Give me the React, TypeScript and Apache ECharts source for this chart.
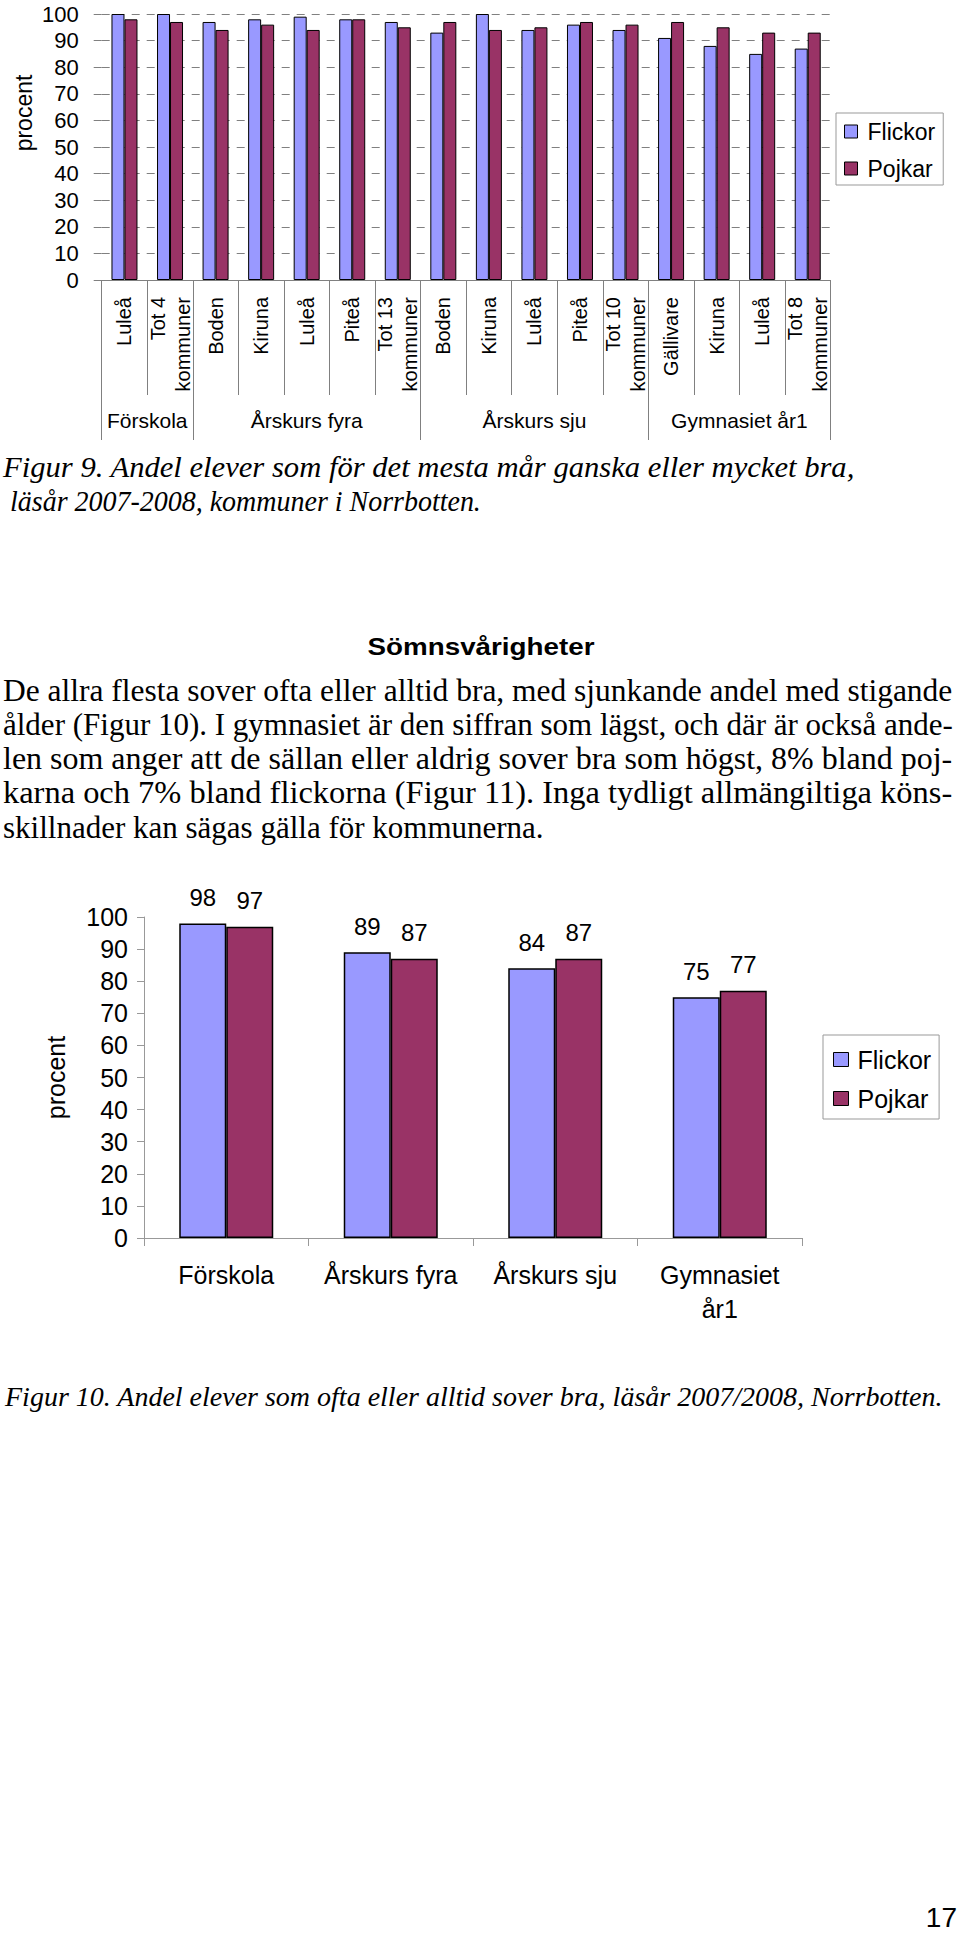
import React, { useEffect, useRef } from 'react';
import * as echarts from 'echarts';

// ---------- Figur 9 data ----------
const categories1 = [
  'Luleå', 'Tot 4\nkommuner',
  'Boden', 'Kiruna', 'Luleå', 'Piteå', 'Tot 13\nkommuner',
  'Boden', 'Kiruna', 'Luleå', 'Piteå', 'Tot 10\nkommuner',
  'Gällivare', 'Kiruna', 'Luleå', 'Tot 8\nkommuner',
];
const groupNames1 = ['Förskola', 'Årskurs fyra', 'Årskurs sju', 'Gymnasiet år1'];
const groupSizes1 = [2, 5, 5, 4];
const flickor1 = [100, 100, 97, 98, 99, 98, 97, 93, 100, 94, 96, 94, 91, 88, 85, 87];
const pojkar1 = [98, 97, 94, 96, 94, 98, 95, 97, 94, 95, 97, 96, 97, 95, 93, 93];

// ---------- Figur 10 data ----------
const categories2 = ['Förskola', 'Årskurs fyra', 'Årskurs sju', 'Gymnasiet\når1'];
const flickor2 = [98, 89, 84, 75];
const pojkar2 = [97, 87, 87, 77];

const seriesNames = ['Flickor', 'Pojkar'];
const yAxisName = 'procent';

// ---------- Texts ----------
const caption1 = [
  'Figur 9. Andel elever som för det mesta mår ganska eller mycket bra,',
  'läsår 2007-2008, kommuner i Norrbotten.',
];
const heading = 'Sömnsvårigheter';
const bodyLines = [
  'De allra flesta sover ofta eller alltid bra, med sjunkande andel med stigande',
  'ålder (Figur 10). I gymnasiet är den siffran som lägst, och där är också ande-',
  'len som anger att de sällan eller aldrig sover bra som högst, 8% bland poj-',
  'karna och 7% bland flickorna (Figur 11). Inga tydligt allmängiltiga köns-',
  'skillnader kan sägas gälla för kommunerna.',
];
const caption2 = 'Figur 10. Andel elever som ofta eller alltid sover bra, läsår 2007/2008, Norrbotten.';
const pageNumber = '17';

const COLOR_F = '#9999FF';
const COLOR_P = '#993366';
const GRAY = '#808080';

let measureCtx: CanvasRenderingContext2D | null = null;
function measure(text: string, font: string): number {
  if (!measureCtx) measureCtx = document.createElement('canvas').getContext('2d');
  if (!measureCtx) return 0;
  measureCtx.font = font;
  return measureCtx.measureText(text).width;
}

type TOpts = {
  size: number;
  family: string;
  weight?: string;
  style?: string;
  align?: string;
  width?: number;
  scale?: number;
  rotation?: number;
};
function fontOf(o: TOpts) {
  return `${o.style || 'normal'} ${o.weight || 'normal'} ${o.size}px "${o.family}"`;
}
function textEl(text: string, x: number, y: number, o: TOpts) {
  let scaleX = o.scale || 1;
  if (o.width) {
    const w = measure(text, fontOf(o));
    if (w > 0) scaleX = o.width / w;
  }
  return {
    type: 'text',
    x,
    y,
    scaleX,
    rotation: o.rotation || 0,
    silent: true,
    style: {
      text,
      fontSize: o.size,
      fontFamily: o.family,
      fontWeight: o.weight || 'normal',
      fontStyle: o.style || 'normal',
      fill: '#000',
      align: o.align || 'left',
      verticalAlign: 'middle',
    },
  };
}

export default function App() {
  const ref = useRef<HTMLDivElement>(null);

  useEffect(() => {
    if (!ref.current) return;
    const chart = echarts.init(ref.current, undefined, { renderer: 'svg' });

    const bounds: number[] = [0];
    groupSizes1.forEach((s) => bounds.push(bounds[bounds.length - 1] + s));
    const centers = groupSizes1.map((s, i) => bounds[i] + s / 2);

    const graphics: any[] = [];
    // chart 1 axis title
    graphics.push(textEl(yAxisName, 24, 113, { size: 23, family: 'Liberation Sans', align: 'center', rotation: Math.PI / 2 }));

    // Figur 9 caption (italic)
    const capOpts: TOpts = { size: 29, family: 'Liberation Serif', style: 'italic' };
    graphics.push(textEl(caption1[0], 3, 467, { ...capOpts, width: 852 }));
    graphics.push(textEl(caption1[1], 10, 501, { ...capOpts, width: 471 }));

    // heading
    graphics.push(textEl(heading, 481, 647, { size: 24, family: 'Liberation Sans', weight: 'bold', align: 'center', width: 227 }));

    // body (justified lines, last line natural)
    const bodySize = 31;
    const baselines = [701, 735.2, 769.4, 803.6, 837.8];
    bodyLines.forEach((line, i) => {
      graphics.push(
        textEl(line, 3, baselines[i] - 10.5, {
          size: bodySize,
          family: 'Liberation Serif',
          width: i < bodyLines.length - 1 ? 950 : undefined,
        })
      );
    });

    // Figur 10 caption
    graphics.push(textEl(caption2, 5, 1396, { size: 28, family: 'Liberation Serif', style: 'italic', width: 938 }));
    // page number
    graphics.push(textEl(pageNumber, 957, 1917, { size: 28, family: 'Liberation Sans', align: 'right' }));

    const option: any = {
      animation: false,
      textStyle: { fontFamily: 'Liberation Sans' },
      grid: [
        { left: 101.7, top: 14, width: 728.8, height: 266 },
        { left: 144, top: 917, width: 658, height: 321 },
      ],
      legend: [
        {
          data: seriesNames,
          orient: 'vertical',
          left: 836,
          top: 113,
          padding: [7, 8, 5, 8],
          itemGap: 14,
          itemWidth: 13,
          itemHeight: 13,
          borderColor: '#999',
          borderWidth: 1,
          backgroundColor: '#fff',
          selectedMode: false,
          icon: 'rect',
          itemStyle: { borderColor: '#000', borderWidth: 1 },
          textStyle: { fontSize: 23, color: '#000', padding: [0, 0, 0, 5] },
        },
        {
          data: seriesNames,
          orient: 'vertical',
          left: 823,
          top: 1035,
          padding: [12, 8, 8, 10],
          itemGap: 14,
          itemWidth: 15,
          itemHeight: 14,
          borderColor: '#999',
          borderWidth: 1,
          backgroundColor: '#fff',
          selectedMode: false,
          icon: 'rect',
          itemStyle: { borderColor: '#000', borderWidth: 1 },
          textStyle: { fontSize: 25, color: '#000', padding: [0, 0, 0, 4] },
        },
      ],
      xAxis: [
        {
          type: 'category',
          gridIndex: 0,
          position: 'bottom',
          data: categories1,
          axisLine: { show: true, onZero: false, lineStyle: { color: GRAY, width: 1 } },
          axisTick: { show: true, interval: 0, length: 115, lineStyle: { color: GRAY } },
          axisLabel: { interval: 0, rotate: 90, fontSize: 20, lineHeight: 25, margin: 17, color: '#000' },
          splitLine: { show: false },
        },
        {
          type: 'value',
          gridIndex: 0,
          position: 'bottom',
          min: 0,
          max: bounds[bounds.length - 1],
          axisLine: { show: false, onZero: false },
          axisTick: { show: true, customValues: bounds, length: 160, lineStyle: { color: GRAY } },
          axisLabel: {
            show: true,
            customValues: centers,
            formatter: (v: number) => {
              const i = centers.findIndex((c) => Math.abs(c - v) < 1e-6);
              return i >= 0 ? groupNames1[i] : '';
            },
            fontSize: 21,
            lineHeight: 21,
            margin: 130,
            color: '#000',
          },
          splitLine: { show: false },
        },
        {
          type: 'category',
          gridIndex: 1,
          position: 'bottom',
          data: categories2,
          axisLine: { show: true, onZero: false, lineStyle: { color: '#999', width: 1 } },
          axisTick: { show: true, interval: 0, length: 8, lineStyle: { color: '#999' } },
          axisLabel: { interval: 0, fontSize: 25, lineHeight: 34, margin: 20, color: '#000' },
          splitLine: { show: false },
        },
      ],
      yAxis: [
        {
          type: 'value',
          gridIndex: 0,
          min: 0,
          max: 100,
          interval: 10,
          axisLine: { show: false },
          axisTick: { show: true, length: 8, lineStyle: { color: GRAY } },
          axisLabel: { fontSize: 22, margin: 23, color: '#000' },
          splitLine: { show: true, lineStyle: { type: [8, 7], color: GRAY, width: 1 } },
        },
        {
          type: 'value',
          gridIndex: 1,
          min: 0,
          max: 100,
          interval: 10,
          name: yAxisName,
          nameLocation: 'middle',
          nameRotate: 90,
          nameGap: 76,
          nameTextStyle: { fontSize: 25, color: '#000' },
          axisLine: { show: true, lineStyle: { color: '#999', width: 1 } },
          axisTick: { show: true, length: 7, lineStyle: { color: '#999' } },
          axisLabel: { fontSize: 25, margin: 16, color: '#000' },
          splitLine: { show: false },
        },
      ],
      series: [
        {
          name: seriesNames[0],
          type: 'bar',
          xAxisIndex: 0,
          yAxisIndex: 0,
          data: flickor1,
          barWidth: 13,
          barGap: '0%',
          itemStyle: { color: COLOR_F, borderColor: '#000', borderWidth: 1 },
        },
        {
          name: seriesNames[1],
          type: 'bar',
          xAxisIndex: 0,
          yAxisIndex: 0,
          data: pojkar1,
          barWidth: 13,
          barGap: '0%',
          itemStyle: { color: COLOR_P, borderColor: '#000', borderWidth: 1 },
        },
        {
          name: seriesNames[0],
          type: 'bar',
          xAxisIndex: 2,
          yAxisIndex: 1,
          data: flickor2,
          barWidth: 47,
          barGap: '0%',
          itemStyle: { color: COLOR_F, borderColor: '#000', borderWidth: 1.5 },
          label: { show: true, position: 'top', distance: 14, fontSize: 24, color: '#000' },
        },
        {
          name: seriesNames[1],
          type: 'bar',
          xAxisIndex: 2,
          yAxisIndex: 1,
          data: pojkar2,
          barWidth: 47,
          barGap: '0%',
          itemStyle: { color: COLOR_P, borderColor: '#000', borderWidth: 1.5 },
          label: { show: true, position: 'top', distance: 14, fontSize: 24, color: '#000' },
        },
      ],
      graphic: graphics,
    };

    chart.setOption(option);
    return () => chart.dispose();
  }, []);

  return (
    <div
      ref={ref}
      style={{ position: 'absolute', left: 0, top: 0, width: 960, height: 1942, background: '#fff' }}
    />
  );
}
